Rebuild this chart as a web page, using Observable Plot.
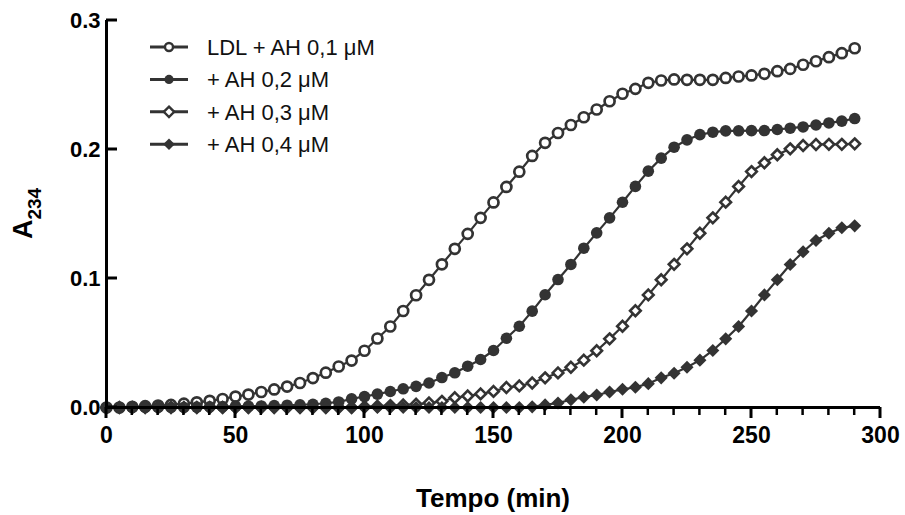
<!DOCTYPE html>
<html><head><meta charset="utf-8">
<script src="https://cdn.jsdelivr.net/npm/d3@7"></script>
<script src="https://cdn.jsdelivr.net/npm/@observablehq/plot@0.6"></script>
<style>html,body{margin:0;padding:0;background:#fff;} #chart{position:relative;width:905px;height:515px;}</style>
</head><body><div id="chart"></div>
<script>
// ---- data ----
const time = [0,5,10,15,20,25,30,35,40,45,50,55,60,65,70,75,80,85,90,95,100,105,110,115,120,125,130,135,140,145,150,155,160,165,170,175,180,185,190,195,200,205,210,215,220,225,230,235,240,245,250,255,260,265,270,275,280,285,290];
const ah01 = [0,0,0.0005,0.001,0.0015,0.002,0.003,0.004,0.0052,0.0066,0.0085,0.010,0.012,0.014,0.0162,0.019,0.0228,0.027,0.0318,0.0364,0.044,0.0535,0.0628,0.0748,0.087,0.099,0.111,0.123,0.1346,0.147,0.159,0.171,0.1828,0.195,0.2052,0.2128,0.219,0.225,0.231,0.2374,0.2432,0.247,0.2517,0.2535,0.2543,0.254,0.254,0.254,0.2555,0.2566,0.2574,0.2587,0.2607,0.2625,0.2657,0.2684,0.2716,0.2747,0.2785];
const ah02 = [0,0,0,0,0,0,0,0.0003,0.0005,0.0007,0.001,0.001,0.0012,0.0015,0.0018,0.002,0.0025,0.0033,0.0043,0.0067,0.0085,0.0104,0.0124,0.0145,0.0164,0.019,0.0232,0.0269,0.032,0.0372,0.0442,0.0537,0.063,0.0747,0.0874,0.0992,0.1109,0.1235,0.1354,0.147,0.1591,0.1714,0.1832,0.1933,0.2018,0.2075,0.2115,0.2134,0.2144,0.2145,0.2146,0.2147,0.2155,0.2165,0.2175,0.219,0.2206,0.222,0.224];
const ah03 = [0,0,0,0,0,0,0,0,0,0,0,0,0,0,0,0,0,0,0,0,0.0005,0.001,0.0015,0.002,0.0025,0.0035,0.0048,0.0076,0.0089,0.0105,0.0125,0.0155,0.0167,0.019,0.023,0.0268,0.0312,0.0367,0.044,0.0532,0.063,0.075,0.0873,0.099,0.111,0.123,0.1351,0.147,0.1592,0.1713,0.1829,0.1897,0.1959,0.2005,0.2031,0.2039,0.204,0.204,0.2044];
const ah04 = [0,0,0,0,0,0,0,0,0,0,0,0,0,0,0,0,0,0,0,0,0,0,0,0,0,0,0,0,0,0,0,0,0,0.0005,0.002,0.0035,0.006,0.008,0.0097,0.012,0.0141,0.0157,0.0185,0.023,0.0266,0.0312,0.0367,0.0442,0.0532,0.0628,0.0748,0.0873,0.099,0.1108,0.1207,0.1295,0.1351,0.1393,0.1408];
const seriesNames = ["LDL + AH 0,1 μM", "+ AH 0,2 μM", "+ AH 0,3 μM", "+ AH 0,4 μM"];
const xMajorTicks = [0,50,100,150,200,250,300];
const xMinorTicks = [10,20,30,40,60,70,80,90,110,120,130,140,160,170,180,190,210,220,230,240,260,270,280,290];
const yTicks = [0,0.1,0.2,0.3];
const xDomain = [0,300];
const yDomain = [0,0.3];
const xTitle = "Tempo (min)";

// ---- styles ----
const ink = "#333";
const styles = [
  {symbol: "circle", r: 5, fill: "white", stroke: ink, strokeWidth: 2.7},
  {symbol: "circle", r: 5.8, fill: ink, stroke: "none"},
  {symbol: "diamond2", r: 4.8, fill: "white", stroke: ink, strokeWidth: 2.6},
  {symbol: "diamond2", r: 5.9, fill: ink, stroke: "none"}
];
const values = [ah01, ah02, ah03, ah04];
const rowsBySeries = values.map((vals, i) => time.map((t, j) => ({t, v: vals[j], series: seriesNames[i]})));

const W = 905, H = 515, mL = 106, mR = 25, mT = 20, mB = 108;
const frameW = W - mL - mR, frameH = H - mT - mB;
const font = "'Liberation Sans', Arial, Helvetica, sans-serif";

const marks = [];
rowsBySeries.forEach((rows, i) => {
  marks.push(Plot.line(rows, {x: "t", y: "v", stroke: ink, strokeWidth: 2.2}));
  marks.push(Plot.dot(rows, {x: "t", y: "v", ...styles[i]}));
});

const plot = Plot.plot({
  width: W, height: H,
  marginLeft: mL, marginRight: mR, marginTop: mT, marginBottom: mB,
  style: {fontFamily: font, background: "white", color: "black"},
  x: {domain: xDomain},
  y: {domain: yDomain},
  marks: [
    ...marks,
    Plot.ruleY([yDomain[0]], {stroke: "black", strokeWidth: 3}),
    Plot.ruleX([xDomain[0]], {stroke: "black", strokeWidth: 3}),
    Plot.axisX({ticks: xMajorTicks, tickSize: 0, tickPadding: 19, fill: "black",
      fontSize: 23, fontWeight: "bold", tickFormat: d => String(d), label: null}),
    Plot.axisY({ticks: yTicks, tickSize: 0, tickPadding: 6, fill: "black", fontSize: 22, fontWeight: "bold",
      tickFormat: d => d.toFixed(1), label: null})
  ]
});
document.getElementById("chart").appendChild(plot);

// ---- tick marks (positioned with Plot's own scales) ----
const svg = d3.select(plot);
const sx = plot.scale("x"), sy = plot.scale("y");
const y0 = sy.apply(yDomain[0]), x0 = sx.apply(xDomain[0]);
const tg = svg.append("g").attr("stroke", "black");
xMinorTicks.forEach(t => tg.append("line").attr("x1", sx.apply(t)).attr("x2", sx.apply(t))
  .attr("y1", y0).attr("y2", y0 + 8).attr("stroke-width", 2.5));
xMajorTicks.forEach(t => tg.append("line").attr("x1", sx.apply(t)).attr("x2", sx.apply(t))
  .attr("y1", y0).attr("y2", y0 + 11).attr("stroke-width", 3));
yTicks.forEach(v => tg.append("line").attr("x1", x0).attr("x2", x0 + 11)
  .attr("y1", sy.apply(v)).attr("y2", sy.apply(v)).attr("stroke-width", 3));

// ---- titles and legend ----
const cx = mL + frameW / 2;
svg.append("text").attr("x", cx).attr("y", 507).attr("text-anchor", "middle")
  .attr("font-family", font).attr("font-size", 26).attr("font-weight", "bold").attr("fill", "black")
  .text(xTitle);

const yt = svg.append("text").attr("transform", `translate(32,${mT + frameH / 2}) rotate(-90)`)
  .attr("text-anchor", "middle").attr("font-family", font).attr("font-weight", "bold").attr("fill", "black");
yt.append("tspan").attr("font-size", 27).text("A");
yt.append("tspan").attr("font-size", 19).attr("dy", 9).text("234");

const legend = svg.append("g").attr("transform", "translate(169,47)");
const legendSym = [
  {type: "circle", size: 4, fill: "white", sw: 2.4},
  {type: "circle", size: 4.6, fill: ink, sw: 0},
  {type: "diamond", size: 5.2, fill: "white", sw: 2.4},
  {type: "diamond", size: 5.8, fill: ink, sw: 0}
];
seriesNames.forEach((name, i) => {
  const g = legend.append("g").attr("transform", `translate(0,${i * 32.4})`);
  g.append("line").attr("x1", -19).attr("x2", 19).attr("stroke", ink).attr("stroke-width", 3);
  const s = legendSym[i];
  if (s.type === "circle") {
    g.append("circle").attr("r", s.size).attr("fill", s.fill).attr("stroke", ink).attr("stroke-width", s.sw);
  } else {
    const r = s.size;
    g.append("path").attr("d", `M0,${-r}L${r},0L0,${r}L${-r},0Z`).attr("fill", s.fill)
      .attr("stroke", ink).attr("stroke-width", s.sw);
  }
  g.append("text").attr("x", 38).attr("dy", "0.36em").attr("text-anchor", "start")
    .attr("font-family", font).attr("font-size", 22).attr("fill", "#111").text(name);
});
</script>
</body></html>
